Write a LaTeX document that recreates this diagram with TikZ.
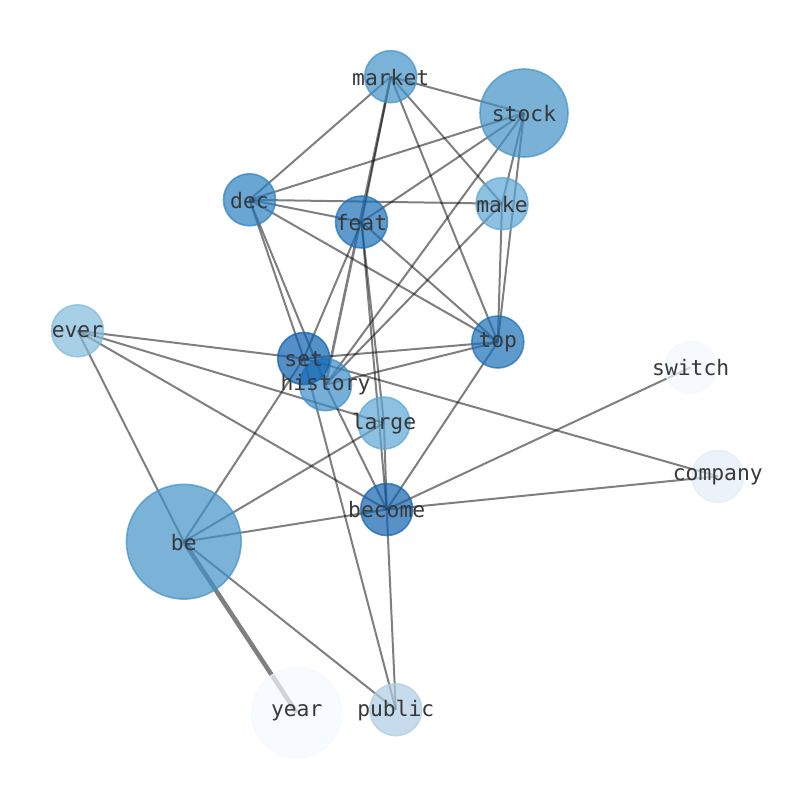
\documentclass[tikz,border=0pt]{standalone}
\usepackage{fontspec}
\setmonofont{DejaVu Sans Mono}
\begin{document}
\begin{tikzpicture}[x=0.75pt,y=-0.75pt,
  edge/.style={draw=black,draw opacity=0.5,line width=1.5pt},
  thickedge/.style={edge,line width=3.4pt},
  wnode/.style={circle,inner sep=0pt,minimum size=#1,line width=1.2pt,fill opacity=0.7,draw opacity=0.7},
  wlabel/.style={font=\ttfamily\fontsize{16}{19}\selectfont,text=black!78,inner sep=0pt,yshift=-0.3pt}]
\useasboundingbox (0,0) rectangle (794,790);
% colours
\definecolor{cmarket}{RGB}{65,146,199}
\definecolor{cstock}{RGB}{66,146,198}
\definecolor{cdec}{RGB}{42,128,192}
\definecolor{cfeat}{RGB}{25,111,182}
\definecolor{cmake}{RGB}{92,165,212}
\definecolor{cever}{RGB}{129,186,219}
\definecolor{ctop}{RGB}{25,111,183}
\definecolor{cset}{RGB}{12,95,175}
\definecolor{chistory}{RGB}{60,142,201}
\definecolor{cswitch}{RGB}{242,248,254}
\definecolor{clarge}{RGB}{92,167,212}
\definecolor{ccompany}{RGB}{226,236,248}
\definecolor{cbecome}{RGB}{17,98,174}
\definecolor{cbe}{RGB}{65,146,199}
\definecolor{cyear}{RGB}{243,249,255}
\definecolor{cpublic}{RGB}{174,205,229}
% positions
\coordinate (market) at (390.7,76.7);
\coordinate (stock) at (524,113);
\coordinate (dec) at (249.5,199.8);
\coordinate (feat) at (361.5,222);
\coordinate (make) at (502,203.7);
\coordinate (ever) at (77.5,330.8);
\coordinate (top) at (497.8,342);
\coordinate (set) at (303.7,358.5);
\coordinate (history) at (325.5,384.7);
\coordinate (switch) at (690.7,367.3);
\coordinate (large) at (384,423);
\coordinate (company) at (717.8,476.3);
\coordinate (become) at (386.7,509.5);
\coordinate (be) at (183.8,541.7);
\coordinate (year) at (296.7,712.8);
\coordinate (public) at (395.8,709.7);
% edges
\draw[edge] (market) -- (stock);
\draw[edge] (market) -- (dec);
\draw[edge] (market) -- (feat);
\draw[edge,line width=2pt] (market) -- (history);
\draw[edge] (market) -- (top);
\draw[edge] (market) -- (make);
\draw[edge] (stock) -- (dec);
\draw[edge] (stock) -- (feat);
\draw[edge] (stock) -- (make);
\draw[edge] (stock) -- (top);
\draw[edge] (stock) -- (history);
\draw[edge] (dec) -- (make);
\draw[edge] (dec) -- (feat);
\draw[edge] (dec) -- (top);
\draw[edge] (dec) -- (set);
\draw[edge] (dec) -- (history);
\draw[edge] (feat) -- (top);
\draw[edge] (feat) -- (set);
\draw[edge] (feat) -- (large);
\draw[edge] (feat) -- (become);
\draw[edge] (make) -- (top);
\draw[edge] (make) -- (history);
\draw[edge] (top) -- (set);
\draw[edge] (top) -- (history);
\draw[edge] (top) -- (become);
\draw[edge] (ever) -- (set);
\draw[edge] (ever) -- (large);
\draw[edge] (ever) -- (become);
\draw[edge] (ever) -- (be);
\draw[edge] (set) -- (be);
\draw[edge] (set) -- (public);
\draw[edge] (set) -- (company);
\draw[edge] (history) -- (become);
\draw[edge] (become) -- (switch);
\draw[edge] (become) -- (company);
\draw[edge] (become) -- (be);
\draw[edge] (become) -- (public);
\draw[edge] (become) -- (large);
\draw[edge] (be) -- (large);
\draw[edge] (be) -- (public);
\draw[thickedge] (be) -- (year);
% circles
\node[wnode=39pt, fill=cmarket, draw=cmarket] (n-market) at (market) {};
\node[wnode=66pt, fill=cstock, draw=cstock] (n-stock) at (stock) {};
\node[wnode=39pt, fill=cdec, draw=cdec] (n-dec) at (dec) {};
\node[wnode=39pt, fill=cfeat, draw=cfeat] (n-feat) at (feat) {};
\node[wnode=39pt, fill=cmake, draw=cmake] (n-make) at (make) {};
\node[wnode=39pt, fill=cever, draw=cever] (n-ever) at (ever) {};
\node[wnode=39pt, fill=ctop, draw=ctop] (n-top) at (top) {};
\node[wnode=39pt, fill=chistory, draw=chistory] (n-history) at (history) {};
\node[wnode=39pt, fill=cset, draw=cset] (n-set) at (set) {};
\node[wnode=39pt, fill=cswitch, draw=cswitch] (n-switch) at (switch) {};
\node[wnode=39pt, fill=clarge, draw=clarge] (n-large) at (large) {};
\node[wnode=39pt, fill=ccompany, draw=ccompany] (n-company) at (company) {};
\node[wnode=39pt, fill=cbecome, draw=cbecome] (n-become) at (become) {};
\node[wnode=86pt, fill=cbe, draw=cbe] (n-be) at (be) {};
\node[wnode=67.5pt, fill=cyear, draw=cyear] (n-year) at (year) {};
\node[wnode=39pt, fill=cpublic, draw=cpublic] (n-public) at (public) {};
% labels
\foreach \w in {market,stock,dec,feat,make,ever,top,set,history,switch,large,company,become,be,year,public}
  \node[wlabel] (t-\w) at (\w) {\w};
\end{tikzpicture}
\end{document}
